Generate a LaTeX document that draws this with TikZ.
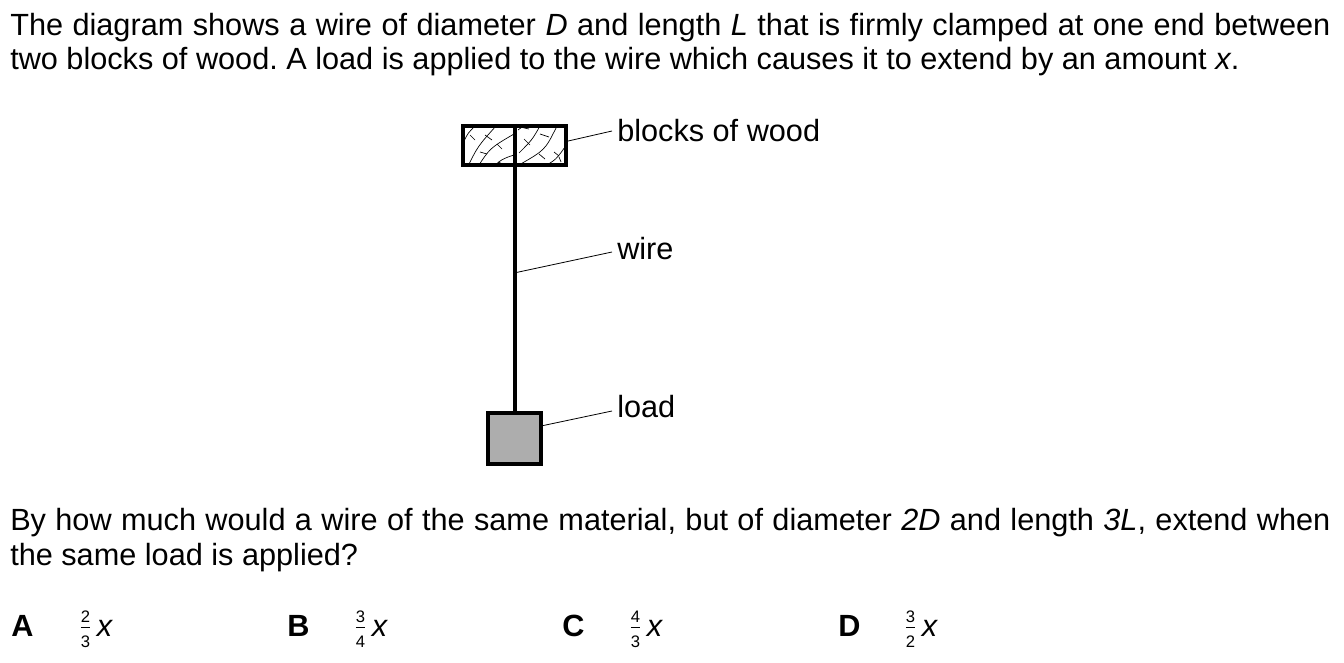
\documentclass[tikz,border=0pt]{standalone}
\usepackage{amsmath}
\usepackage{fontspec}
\setmainfont{Liberation Sans}
\usetikzlibrary{positioning}
\newcommand{\optfrac}[2]{$\frac{\text{\fontsize{12.5}{14}\selectfont #1}}{\text{\fontsize{12.5}{14}\selectfont #2}}$\,\textit{x}}

\begin{document}
\begin{tikzpicture}[x=0.75pt,y=-0.75pt]
 \tikzstyle{every node}=[font=\fontsize{23}{27}\selectfont\frenchspacing,inner sep=0pt]
 \tikzstyle{thickline}=[line width=3pt]
 \tikzstyle{leader}=[line width=0.6pt]
 \tikzstyle{grain}=[line width=0.5pt]
 \tikzstyle{label}=[anchor=west,inner xsep=3.75pt]
 \useasboundingbox (0,0) rectangle (1344,663);
 % question text
 \node[anchor=base west] (line1) at (10,36)
  {\hbox to 990pt{The diagram shows a wire of diameter \textit{D} and length \textit{L} that is firmly clamped at one end between}};
 \node[anchor=base west] (line2) at (10,70)
  {two blocks of wood. A load is applied to the wire which causes it to extend by an amount \textit{x}.};
 % apparatus
 \node[draw,thickline,minimum width=77.25pt,minimum height=29.25pt] (wood) at (514.5,145.5) {};
 \node[draw,thickline,fill=black!32,minimum width=39.75pt,minimum height=38.25pt] (load) at (514.5,438.5) {};
 \begin{scope}
  \clip (463,126) rectangle (566,165);
  % grain of the wood
  \draw[grain]
   (464,141) .. controls (468,133) .. (476,125)
   (467,168) .. controls (478,146) .. (496,126)
   (477,168) .. controls (490,148) .. (514,134)
   (492,168) .. controls (502,159) .. (514,155)
   (518,130) .. controls (522,127) .. (528,124)
   (519,153) .. controls (532,140) .. (540,126)
   (519,165) .. controls (545,150) .. (556,128)
   (541,168) .. controls (556,160) .. (567,144)
   ;
  \draw[grain]
   (470,135) -- (475,140)
   (485,135) -- (492,140)
   (480,152) -- (487,154)
   (497,144) -- (502,149)
   (498,162) -- (505,165)
   (520,127) -- (529,129)
   (524,139) -- (530,145)
   (540,134) -- (549,137)
   (539,154) -- (545,159)
   (554,152) -- (559,156)
   (559,157) -- (561,162)
   ;
 \end{scope}
 \coordinate (woodpt) at (566,141.5);
 \coordinate (wirept) at (514,273);
 \coordinate (loadpt) at (541,426);
 \path[draw,thickline]
 (wood.north) edge (wood.south)
 (wood.south) edge (load.north)
 ;
 \node[label] (woodlabel) at (612,131) {blocks of wood};
 \node[label] (wirelabel) at (612,249) {wire};
 \node[label] (loadlabel) at (612,407) {load};
 \path[draw,leader]
 (woodpt) edge (woodlabel.west)
 (wirept) edge ([yshift=-2.25pt]wirelabel.west)
 (loadpt) edge ([yshift=-3pt]loadlabel.west)
 ;
 % question
 \node[anchor=base west] (line3) at (10,530)
  {\hbox to 990pt{By how much would a wire of the same material, but of diameter \textit{2D} and length \textit{3L}, extend when}};
 \node[anchor=base west] (line4) at (10,565) {the same load is applied?};
 % options
 \node[anchor=base west] (optA) at (11,636) {\textbf{A}};
 \node[anchor=base west] (fracA) at (79,636) {\optfrac{2}{3}};
 \node[anchor=base west] (optB) at (287,636) {\textbf{B}};
 \node[anchor=base west] (fracB) at (354,636) {\optfrac{3}{4}};
 \node[anchor=base west] (optC) at (562,636) {\textbf{C}};
 \node[anchor=base west] (fracC) at (629,636) {\optfrac{4}{3}};
 \node[anchor=base west] (optD) at (838,636) {\textbf{D}};
 \node[anchor=base west] (fracD) at (904,636) {\optfrac{3}{2}};
\end{tikzpicture}
\end{document}
